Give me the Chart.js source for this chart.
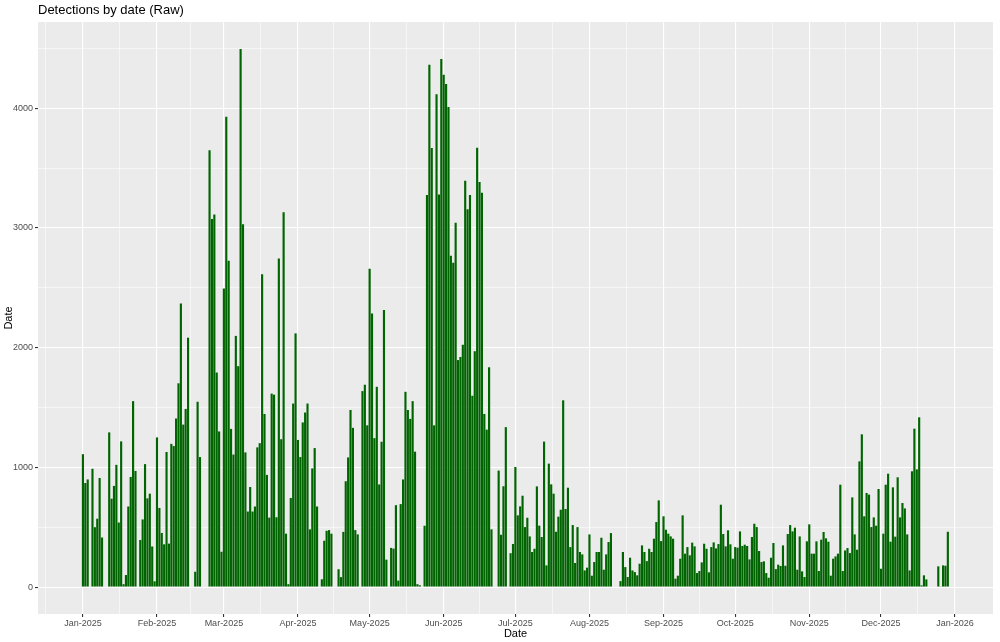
<!DOCTYPE html>
<html>
<head>
<meta charset="utf-8">
<script src="https://cdn.jsdelivr.net/npm/chart.js@4.4.1/dist/chart.umd.min.js"></script>
<style>
  html, body { margin: 0; padding: 0; background: #fff; }
  #wrap { width: 1000px; height: 642px; position: relative; }
</style>
</head>
<body>
<div id="wrap"><canvas id="detChart"></canvas></div>
<script>
// daily detections, 2025 (index 0 = 1 Jan)
const jan = [1110, 869, 899, 0, 988, 500, 571, 911, 414, 0, 0, 1292, 738, 845, 1021, 539, 1217, 24, 101, 673, 920, 1553, 970, 0, 393, 565, 1027, 741, 780, 339, 48];
const feb = [1250, 661, 452, 357, 1128, 363, 1196, 1178, 1408, 1702, 2369, 1357, 1488, 2083, 0, 0, 128, 1548, 1086, 0, 0, 0, 3649, 3074, 3113, 1792, 1300, 295];
const mar = [2494, 3928, 2726, 1321, 1107, 2098, 1845, 4494, 3030, 1125, 631, 836, 631, 673, 1167, 1202, 2613, 1446, 937, 580, 1616, 1607, 583, 2744, 1235, 3131, 446, 24, 744, 1533, 2119];
const apr = [1229, 1086, 1375, 1458, 1533, 482, 991, 1161, 673, 0, 65, 387, 470, 476, 446, 0, 0, 149, 83, 461, 884, 1083, 1479, 1330, 476, 440, 0, 1637, 1690, 1351];
const may = [2658, 2286, 1244, 1673, 857, 1214, 2315, 229, 0, 327, 321, 684, 54, 693, 899, 1631, 1479, 1405, 1553, 1131, 24, 15, 0, 512, 3274, 4363, 3667, 1351, 4116, 3280, 4411];
const jun = [4280, 4202, 4009, 2768, 2708, 3044, 1896, 1922, 2024, 3393, 3155, 3274, 1598, 1970, 3669, 3384, 3294, 1446, 1315, 1836, 482, 0, 0, 973, 437, 842, 1336, 0, 283, 360];
const jul = [1003, 599, 674, 763, 501, 579, 423, 293, 320, 841, 513, 418, 1215, 181, 1031, 858, 780, 462, 588, 646, 1560, 652, 830, 334, 518, 201, 501, 293, 273, 139, 162];
const aug = [440, 95, 209, 293, 293, 412, 145, 273, 376, 451, 0, 0, 0, 50, 293, 167, 84, 245, 139, 125, 98, 195, 348, 293, 217, 320, 293, 404, 543, 724, 384];
const sep = [591, 479, 446, 423, 404, 70, 95, 237, 599, 279, 334, 265, 371, 340, 117, 134, 206, 362, 320, 123, 334, 373, 323, 359, 688, 443, 340, 474, 357, 237];
const oct = [334, 329, 465, 343, 354, 343, 231, 418, 529, 501, 301, 209, 215, 117, 78, 245, 368, 150, 187, 176, 348, 178, 443, 518, 465, 496, 145, 423, 131, 84, 382];
const nov = [524, 279, 279, 382, 134, 396, 460, 407, 379, 95, 237, 256, 279, 855, 134, 306, 326, 284, 749, 440, 312, 1050, 1276, 591, 786, 772, 501, 582, 513, 819];
const dec = [153, 446, 855, 947, 379, 833, 421, 917, 582, 702, 657, 440, 139, 967, 1323, 983, 1418, 14, 98, 64, 0, 0, 0, 0, 173, 6, 181, 178, 462, 0, 0];

// x axis: day index of each month start, and its label
const monthStarts = [0, 31, 59, 90, 120, 151, 181, 212, 243, 273, 304, 334, 365];
const monthLabels = ['Jan-2025', 'Feb-2025', 'Mar-2025', 'Apr-2025', 'May-2025', 'Jun-2025',
  'Jul-2025', 'Aug-2025', 'Sep-2025', 'Oct-2025', 'Nov-2025', 'Dec-2025', 'Jan-2026'];
const yTicks = [0, 1000, 2000, 3000, 4000];

const daily = [].concat(jan, feb, mar, apr, may, jun, jul, aug, sep, oct, nov, dec);
const points = daily.map((v, i) => ({ x: i, y: v }));

// minor breaks halfway between months (ggplot style)
const minorX = [-15.5];
for (let i = 0; i < monthStarts.length - 1; i++) {
  minorX.push((monthStarts[i] + monthStarts[i + 1]) / 2);
}
const xGrid = monthStarts.concat(minorX).sort((a, b) => a - b);
const yGrid = [];
for (let v = 0; v <= 4500; v += 500) yGrid.push(v);

const FONT = "'Liberation Sans', Arial, sans-serif";

// grey panel + plot title
const panelPlugin = {
  id: 'panel',
  beforeDraw(chart) {
    const { ctx, chartArea: a } = chart;
    ctx.save();
    ctx.fillStyle = '#fff';
    ctx.fillRect(0, 0, chart.width, chart.height);
    ctx.fillStyle = '#EBEBEB';
    ctx.fillRect(a.left, a.top, a.right - a.left, a.bottom - a.top);
    ctx.fillStyle = '#000';
    ctx.font = '13px ' + FONT;
    ctx.textBaseline = 'alphabetic';
    ctx.fillText('Detections by date (Raw)', a.left, 14);
    ctx.restore();
  }
};

const ctx = document.getElementById('detChart').getContext('2d');
new Chart(ctx, {
  type: 'bar',
  data: {
    datasets: [{
      data: points,
      backgroundColor: '#006400',
      borderColor: '#0b6e0b',
      borderWidth: 0,
      barPercentage: 0.9,
      categoryPercentage: 1.0
    }]
  },
  options: {
    responsive: true,
    maintainAspectRatio: false,
    animation: false,
    layout: { padding: { left: 0, right: 7, top: 22, bottom: 0 } },
    plugins: {
      legend: { display: false },
      tooltip: { enabled: false }
    },
    scales: {
      x: {
        type: 'linear',
        min: -18.8,
        max: 380.9,
        offset: false,
        grid: {
          offset: false,
          color: '#fff',
          lineWidth: c => monthStarts.includes(c.tick.value) ? 1.1 : 0.55,
          tickColor: c => monthStarts.includes(c.tick.value) ? '#333' : 'rgba(0,0,0,0)',
          tickLength: 3,
          drawTicks: true
        },
        border: { display: false },
        afterBuildTicks: s => { s.ticks = xGrid.map(v => ({ value: v })); },
        afterFit: s => { s.height = 28; },
        ticks: {
          autoSkip: false,
          maxRotation: 0,
          padding: 1,
          color: '#4D4D4D',
          font: { family: FONT, size: 9 },
          callback: v => {
            const i = monthStarts.indexOf(v);
            return i >= 0 ? monthLabels[i] : '';
          }
        },
        title: {
          display: true,
          text: 'Date',
          color: '#000',
          font: { family: FONT, size: 11 },
          padding: { top: 0, bottom: 1 }
        }
      },
      y: {
        min: -225,
        max: 4720,
        grid: {
          color: '#fff',
          lineWidth: c => yTicks.includes(c.tick.value) ? 1.1 : 0.55,
          tickColor: c => yTicks.includes(c.tick.value) ? '#333' : 'rgba(0,0,0,0)',
          tickLength: 3
        },
        border: { display: false },
        afterBuildTicks: s => { s.ticks = yGrid.map(v => ({ value: v })); },
        afterFit: s => { s.width = 38; },
        ticks: {
          autoSkip: false,
          padding: 2,
          color: '#4D4D4D',
          font: { family: FONT, size: 9 },
          callback: v => yTicks.includes(v) ? String(v) : ''
        },
        title: {
          display: true,
          text: 'Date',
          color: '#000',
          font: { family: FONT, size: 11 },
          padding: { top: 2, bottom: 0 }
        }
      }
    }
  },
  plugins: [panelPlugin]
});
</script>
</body>
</html>
